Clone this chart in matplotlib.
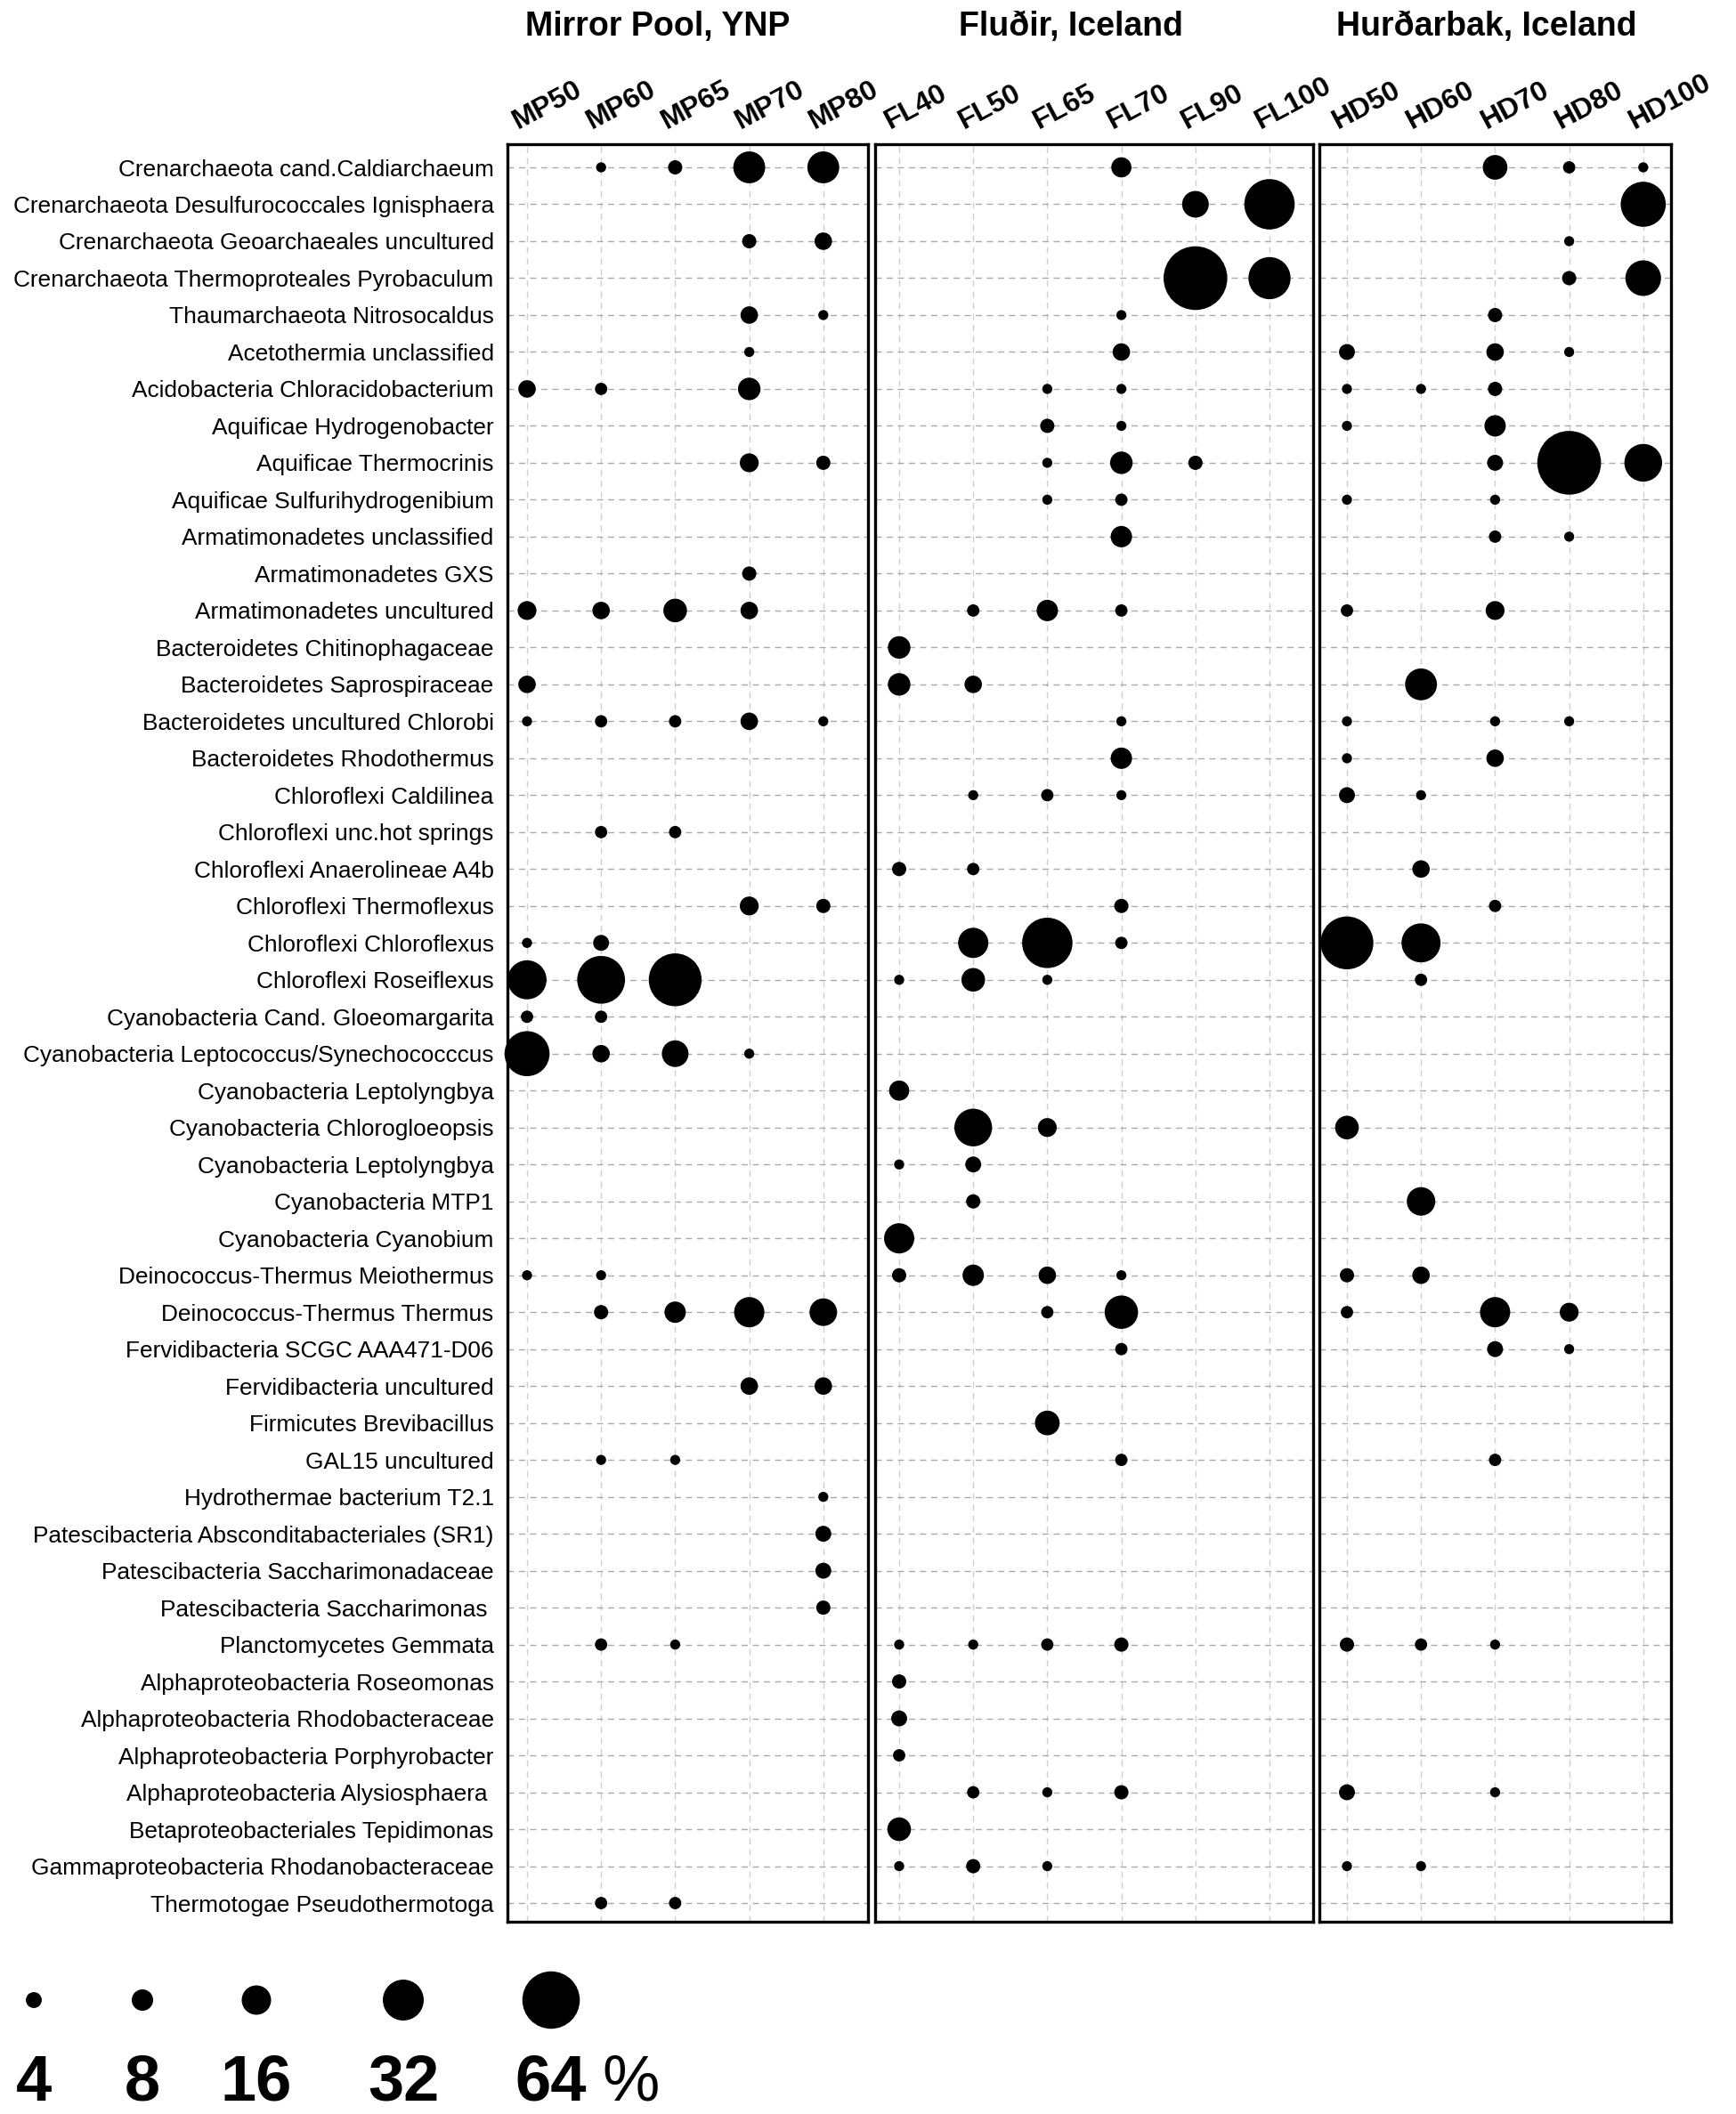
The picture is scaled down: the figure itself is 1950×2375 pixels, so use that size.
import numpy as np
import matplotlib
matplotlib.use("Agg")
import matplotlib.pyplot as plt
from matplotlib import font_manager

plt.rcParams['font.family'] = ['Liberation Sans', 'DejaVu Sans']

# taxa, top to bottom
taxa = [
    "Crenarchaeota cand.Caldiarchaeum",
    "Crenarchaeota Desulfurococcales Ignisphaera",
    "Crenarchaeota Geoarchaeales uncultured",
    "Crenarchaeota Thermoproteales Pyrobaculum",
    "Thaumarchaeota Nitrosocaldus",
    "Acetothermia unclassified",
    "Acidobacteria Chloracidobacterium",
    "Aquificae Hydrogenobacter",
    "Aquificae Thermocrinis",
    "Aquificae Sulfurihydrogenibium",
    "Armatimonadetes unclassified",
    "Armatimonadetes GXS",
    "Armatimonadetes uncultured",
    "Bacteroidetes Chitinophagaceae",
    "Bacteroidetes Saprospiraceae",
    "Bacteroidetes uncultured Chlorobi",
    "Bacteroidetes Rhodothermus",
    "Chloroflexi Caldilinea",
    "Chloroflexi unc.hot springs",
    "Chloroflexi Anaerolineae A4b",
    "Chloroflexi Thermoflexus",
    "Chloroflexi Chloroflexus",
    "Chloroflexi Roseiflexus",
    "Cyanobacteria Cand. Gloeomargarita",
    "Cyanobacteria Leptococcus/Synechococccus",
    "Cyanobacteria Leptolyngbya",
    "Cyanobacteria Chlorogloeopsis",
    "Cyanobacteria Leptolyngbya",
    "Cyanobacteria MTP1",
    "Cyanobacteria Cyanobium",
    "Deinococcus-Thermus Meiothermus",
    "Deinococcus-Thermus Thermus",
    "Fervidibacteria SCGC AAA471-D06",
    "Fervidibacteria uncultured",
    "Firmicutes Brevibacillus",
    "GAL15 uncultured",
    "Hydrothermae bacterium T2.1",
    "Patescibacteria Absconditabacteriales (SR1)",
    "Patescibacteria Saccharimonadaceae",
    "Patescibacteria Saccharimonas ",
    "Planctomycetes Gemmata",
    "Alphaproteobacteria Roseomonas",
    "Alphaproteobacteria Rhodobacteraceae",
    "Alphaproteobacteria Porphyrobacter",
    "Alphaproteobacteria Alysiosphaera ",
    "Betaproteobacteriales Tepidimonas",
    "Gammaproteobacteria Rhodanobacteraceae",
    "Thermotogae Pseudothermotoga",
]

site_titles = ["Mirror Pool, YNP", "Fluðir, Iceland", "Hurðarbak, Iceland"]
mp_samples = ["MP50", "MP60", "MP65", "MP70", "MP80"]
fl_samples = ["FL40", "FL50", "FL65", "FL70", "FL90", "FL100"]
hd_samples = ["HD50", "HD60", "HD70", "HD80", "HD100"]

# relative abundance (%), one row per taxon, 0 = not shown
mp_values = [
    [0, 1, 3, 19, 19], [0, 0, 0, 0, 0], [0, 0, 0, 3, 5], [0, 0, 0, 0, 0],
    [0, 0, 0, 5, 1], [0, 0, 0, 1, 0], [5, 2, 0, 9, 0], [0, 0, 0, 0, 0],
    [0, 0, 0, 6, 3], [0, 0, 0, 0, 0], [0, 0, 0, 0, 0], [0, 0, 0, 3, 0],
    [6, 5, 10, 5, 0], [0, 0, 0, 0, 0], [5, 0, 0, 0, 0], [1, 2, 2, 5, 1],
    [0, 0, 0, 0, 0], [0, 0, 0, 0, 0], [0, 2, 2, 0, 0], [0, 0, 0, 0, 0],
    [0, 0, 0, 6, 3], [1, 4, 0, 0, 0], [29, 44, 54, 0, 0], [2, 2, 0, 0, 0],
    [39, 5, 13, 1, 0], [0, 0, 0, 0, 0], [0, 0, 0, 0, 0], [0, 0, 0, 0, 0],
    [0, 0, 0, 0, 0], [0, 0, 0, 0, 0], [1, 1, 0, 0, 0], [0, 3, 8, 17, 14],
    [0, 0, 0, 0, 0], [0, 0, 0, 5, 5], [0, 0, 0, 0, 0], [0, 1, 1, 0, 0],
    [0, 0, 0, 0, 1], [0, 0, 0, 0, 4], [0, 0, 0, 0, 4], [0, 0, 0, 0, 3],
    [0, 2, 1, 0, 0], [0, 0, 0, 0, 0], [0, 0, 0, 0, 0], [0, 0, 0, 0, 0],
    [0, 0, 0, 0, 0], [0, 0, 0, 0, 0], [0, 0, 0, 0, 0], [0, 2, 2, 0, 0],
]
fl_values = [
    [0, 0, 0, 7, 0, 0], [0, 0, 0, 0, 13, 49], [0, 0, 0, 0, 0, 0], [0, 0, 0, 0, 79, 34],
    [0, 0, 0, 1, 0, 0], [0, 0, 0, 5, 0, 0], [0, 0, 1, 1, 0, 0], [0, 0, 3, 1, 0, 0],
    [0, 0, 1, 9, 3, 0], [0, 0, 1, 2, 0, 0], [0, 0, 0, 8, 0, 0], [0, 0, 0, 0, 0, 0],
    [0, 2, 8, 2, 0, 0], [9, 0, 0, 0, 0, 0], [9, 5, 0, 0, 0, 0], [0, 0, 0, 1, 0, 0],
    [0, 0, 0, 8, 0, 0], [0, 1, 2, 1, 0, 0], [0, 0, 0, 0, 0, 0], [3, 2, 0, 0, 0, 0],
    [0, 0, 0, 3, 0, 0], [0, 17, 49, 2, 0, 0], [1, 10, 1, 0, 0, 0], [0, 0, 0, 0, 0, 0],
    [0, 0, 0, 0, 0, 0], [7, 0, 0, 0, 0, 0], [0, 27, 6, 0, 0, 0], [1, 4, 0, 0, 0, 0],
    [0, 3, 0, 0, 0, 0], [17, 0, 0, 0, 0, 0], [3, 8, 5, 1, 0, 0], [0, 0, 2, 21, 0, 0],
    [0, 0, 0, 2, 0, 0], [0, 0, 0, 0, 0, 0], [0, 0, 11, 0, 0, 0], [0, 0, 0, 2, 0, 0],
    [0, 0, 0, 0, 0, 0], [0, 0, 0, 0, 0, 0], [0, 0, 0, 0, 0, 0], [0, 0, 0, 0, 0, 0],
    [1, 1, 2, 3, 0, 0], [3, 0, 0, 0, 0, 0], [4, 0, 0, 0, 0, 0], [2, 0, 0, 0, 0, 0],
    [0, 2, 1, 3, 0, 0], [10, 0, 0, 0, 0, 0], [1, 3, 1, 0, 0, 0], [0, 0, 0, 0, 0, 0],
]
hd_values = [
    [0, 0, 11, 2, 1], [0, 0, 0, 0, 39], [0, 0, 0, 1, 0], [0, 0, 0, 3, 24],
    [0, 0, 3, 0, 0], [4, 0, 5, 1, 0], [1, 1, 3, 0, 0], [1, 0, 8, 0, 0],
    [0, 0, 4, 79, 27], [1, 0, 1, 0, 0], [0, 0, 2, 1, 0], [0, 0, 0, 0, 0],
    [2, 0, 6, 0, 0], [0, 0, 0, 0, 0], [0, 19, 0, 0, 0], [1, 0, 1, 1, 0],
    [1, 0, 5, 0, 0], [4, 1, 0, 0, 0], [0, 0, 0, 0, 0], [0, 5, 0, 0, 0],
    [0, 0, 2, 0, 0], [54, 29, 0, 0, 0], [0, 2, 0, 0, 0], [0, 0, 0, 0, 0],
    [0, 0, 0, 0, 0], [0, 0, 0, 0, 0], [10, 0, 0, 0, 0], [0, 0, 0, 0, 0],
    [0, 15, 0, 0, 0], [0, 0, 0, 0, 0], [3, 5, 0, 0, 0], [2, 0, 17, 6, 0],
    [0, 0, 4, 1, 0], [0, 0, 0, 0, 0], [0, 0, 0, 0, 0], [0, 0, 2, 0, 0],
    [0, 0, 0, 0, 0], [0, 0, 0, 0, 0], [0, 0, 0, 0, 0], [0, 0, 0, 0, 0],
    [3, 2, 1, 0, 0], [0, 0, 0, 0, 0], [0, 0, 0, 0, 0], [0, 0, 0, 0, 0],
    [4, 0, 1, 0, 0], [0, 0, 0, 0, 0], [1, 1, 0, 0, 0], [0, 0, 0, 0, 0],
]

legend_values = [4, 8, 16, 32, 64]

W, H = 1950, 2375
COL_STEP = 83.2     # px between sample columns
ROW0, ROW_STEP = 188, 41.49
TOP, BOTTOM = 162, 2159

# condensed font for row labels and titles if it is there
installed = {f.name for f in font_manager.fontManager.ttflist}
if 'Liberation Sans Narrow' in installed:
    narrow = ['Liberation Sans Narrow', 'DejaVu Sans']
    label_size, title_size = 23, 33
else:
    narrow = ['Liberation Sans', 'DejaVu Sans']
    label_size, title_size = 18.9, 27


def px_box(x0, y0, x1, y1):
    return [x0 / W, 1 - y1 / H, (x1 - x0) / W, (y1 - y0) / H]


def bubble_size(v):
    # marker area in pt^2 -> diameter about 8*sqrt(v+1) px at 100 dpi
    return 33.2 * (np.asarray(v, dtype=float) + 1)


fig = plt.figure(figsize=(W / 100, H / 100), dpi=100)

# (samples, values, left px, right px, first column px, title x px)
panels = [
    (mp_samples, mp_values, 570, 975, 592, 739),
    (fl_samples, fl_values, 983, 1475, 1010, 1203),
    (hd_samples, hd_values, 1482, 1877, 1513, 1670),
]

n_rows = len(taxa)
for k, (samples, values, left, right, first_col, title_x) in enumerate(panels):
    ax = fig.add_axes(px_box(left, TOP, right, BOTTOM))
    vals = np.array(values, dtype=float)
    ncol = len(samples)

    ax.set_xlim((left - first_col) / COL_STEP, (right - first_col) / COL_STEP)
    ax.set_ylim((BOTTOM - ROW0) / ROW_STEP, (TOP - ROW0) / ROW_STEP)

    ax.set_xticks(range(ncol))
    ax.set_yticks(range(n_rows))
    ax.xaxis.grid(True, linestyle=(0, (5, 4)), color='#cfcfcf', linewidth=1.0)
    ax.yaxis.grid(True, linestyle=(0, (5, 4)), color='#a9a9a9', linewidth=1.0)
    ax.set_axisbelow(True)
    ax.tick_params(length=0, labelbottom=False, labelleft=(k == 0), pad=11)
    ax.set_xticklabels([])
    if k == 0:
        ax.set_yticklabels(taxa, fontsize=label_size, family=narrow)
    else:
        ax.set_yticklabels([])

    for s in ax.spines.values():
        s.set_linewidth(2.4)
        s.set_color('black')

    for j in range(ncol):
        rows = np.where(vals[:, j] > 0)[0]
        ax.scatter(np.full(len(rows), j), rows, s=bubble_size(vals[rows, j]),
                   color='black', linewidths=0, zorder=3, clip_on=False)

    # sample names above the panel
    for j, name in enumerate(samples):
        ax.text(j - 0.12, 1 + 17 / (BOTTOM - TOP), name,
                transform=ax.get_xaxis_transform(), rotation=28,
                rotation_mode='anchor', ha='left', va='baseline',
                fontsize=23, fontweight='bold')

    fig.text(title_x / W, 1 - 30 / H, site_titles[k], ha='center', va='center',
             fontsize=title_size, fontweight='bold', family=narrow)

# size legend
ax_leg = fig.add_axes([0, 0, 1, 1], zorder=-1)
ax_leg.set_xlim(0, W)
ax_leg.set_ylim(H, 0)
ax_leg.axis('off')
leg_x = [38, 160, 288, 453, 619]
ax_leg.scatter(leg_x, [2247] * len(legend_values), s=bubble_size(legend_values),
               color='black', linewidths=0)
for x, v in zip(leg_x, legend_values):
    ax_leg.text(x, 2360, str(v), ha='center', va='baseline', fontsize=52,
                fontweight='bold')
ax_leg.text(709, 2360, "%", ha='center', va='baseline', fontsize=52)

fig.savefig("out.png", dpi=100)
